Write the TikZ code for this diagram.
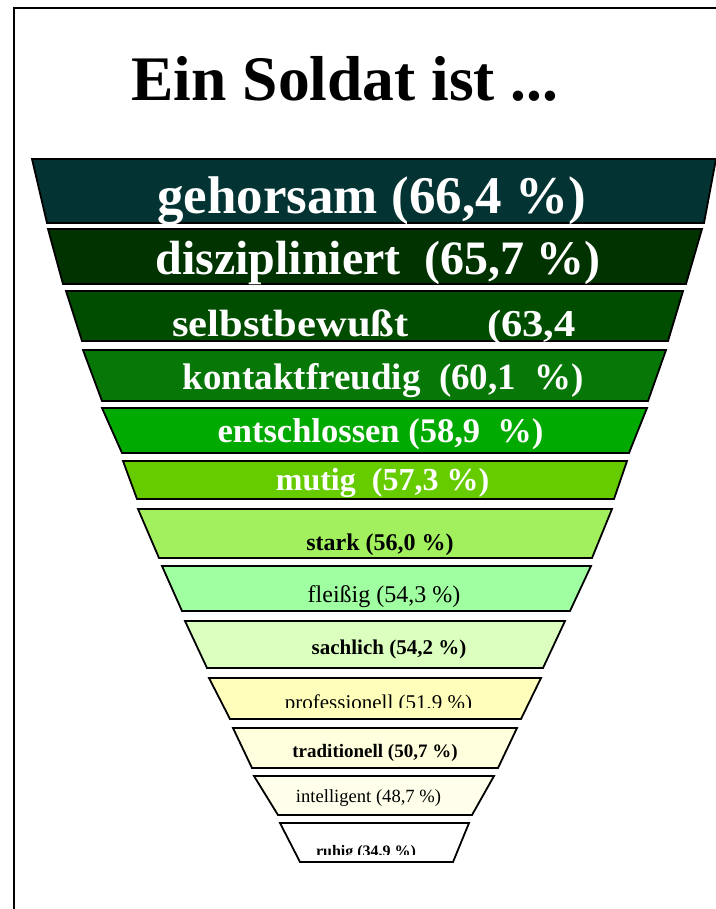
\documentclass[tikz,border=0pt]{standalone}
\usepackage{fontspec}
\setmainfont{Liberation Serif}
\usepackage{graphicx}
\definecolor{c1}{HTML}{033333}
\definecolor{c2}{HTML}{003300}
\definecolor{c3}{HTML}{004D00}
\definecolor{c4}{HTML}{077707}
\definecolor{c5}{HTML}{00AA00}
\definecolor{c6}{HTML}{66CC00}
\definecolor{c7}{HTML}{A3F05F}
\definecolor{c8}{HTML}{A0FFA0}
\definecolor{c9}{HTML}{DAFFBE}
\definecolor{c10}{HTML}{FFFFBB}
\definecolor{c11}{HTML}{FFFFDD}
\definecolor{c12}{HTML}{FFFFEC}
\definecolor{c13}{HTML}{FFFFFF}
\newcommand{\fs}[1]{\fontsize{#1}{#1}\selectfont}
\begin{document}
\begin{tikzpicture}[x=1pt,y=-1pt,
  band/.style={draw=black,line width=1.8pt,line join=miter},
  lbl/.style={anchor=base,inner sep=0pt},
  wlbl/.style={lbl,text=white,font=\bfseries},
  blbl/.style={lbl,text=black,font=\bfseries},
  rlbl/.style={lbl,text=black},
]
\useasboundingbox (0,0) rectangle (715,909);
\draw[line width=2.8pt] (14,910) -- (14,8) -- (716,8);
\node[lbl,font=\fs{63.5}\bfseries] (title) at (345,101) {Ein Soldat ist ...};

\draw[band,fill=c1]  (32,159) -- (716,159) -- (704,223) -- (47,223) -- cycle;
\draw[band,fill=c2]  (48,229) -- (702,229) -- (686,284) -- (63,284) -- cycle;
\draw[band,fill=c3]  (66,291) -- (683,291) -- (668,341) -- (82,341) -- cycle;
\draw[band,fill=c4]  (83,350) -- (666,350) -- (648,401) -- (102,401) -- cycle;
\draw[band,fill=c5]  (102,408) -- (647,408) -- (629,453) -- (122,453) -- cycle;
\draw[band,fill=c6]  (123,461) -- (627,461) -- (614,499) -- (137,499) -- cycle;
\draw[band,fill=c7]  (138,509) -- (612,509) -- (592,558) -- (159,558) -- cycle;
\draw[band,fill=c8]  (162,566) -- (591,566) -- (570,611) -- (182,611) -- cycle;
\draw[band,fill=c9]  (185,621) -- (565,621) -- (543,668) -- (207,668) -- cycle;
\draw[band,fill=c10] (209,678) -- (541,678) -- (521,719) -- (230,719) -- cycle;
\draw[band,fill=c11] (233,728) -- (517,728) -- (498,768) -- (252,768) -- cycle;
\draw[band,fill=c12] (254,776) -- (494,776) -- (472,815) -- (278,815) -- cycle;
\draw[band,fill=c13] (280,823) -- (469,823) -- (453,862) -- (300,862) -- cycle;

\node[wlbl,font=\fs{53}\bfseries] (t1) at (371.5,214) {gehorsam (66,4 \%)};
\node[wlbl,font=\fs{48}\bfseries] (t2) at (378,274) {diszipliniert\ \ (65,7 \%)};
\node[wlbl,font=\fs{38}\bfseries,anchor=base west] (t3a) at (172,336) {\scalebox{1.12}[1]{selbstbewußt}};
\node[wlbl,font=\fs{38}\bfseries,anchor=base west] (t3b) at (487,336) {\scalebox{1.12}[1]{(63,4}};
\node[wlbl,font=\fs{37}\bfseries] (t4) at (383.5,389) {kontaktfreudig\ \ (60,1\ \ \%)};
\node[wlbl,font=\fs{34.5}\bfseries] (t5) at (380.5,442) {entschlossen (58,9\ \ \%)};
\node[wlbl,font=\fs{32}\bfseries] (t6) at (382.5,490) {mutig\ \ (57,3 \%)};
\node[blbl,font=\fs{24}\bfseries] (t7) at (380,550) {stark (56,0 \%)};
\node[rlbl,font=\fs{24}] (t8) at (384,602) {fleißig (54,3 \%)};
\node[blbl,font=\fs{21}\bfseries] (t9) at (389,654) {sachlich (54,2 \%)};
\begin{scope}
\clip (220,680) rectangle (540,707);
\node[rlbl,font=\fs{21}] (t10) at (378.5,709) {professionell (51,9 \%)};
\end{scope}
\node[blbl,font=\fs{19}\bfseries] (t11) at (375,757) {traditionell (50,7 \%)};
\node[rlbl,font=\fs{18.6}] (t12) at (368.5,802) {intelligent (48,7 \%)};
\begin{scope}
\clip (290,825) rectangle (460,854);
\node[blbl,font=\fs{16}\bfseries] (t13) at (366,856) {ruhig (34,9 \%)};
\end{scope}
\end{tikzpicture}
\end{document}
